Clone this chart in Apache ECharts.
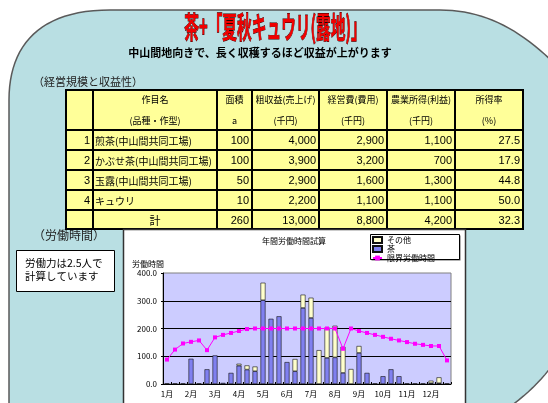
<!DOCTYPE html>
<html><head><meta charset="utf-8">
<script src="https://cdn.jsdelivr.net/npm/echarts@6/dist/echarts.min.js"></script>
<style>html,body{margin:0;padding:0;background:#fff}#c{width:548px;height:403px}</style>
</head><body><div id="c"></div>
<script>
// ---------- texts ----------
const mainTitle = '茶+「夏秋キュウリ(露地)」';
const subTitle = '中山間地向きで、長く収穫するほど収益が上がります';
const sectionTable = '（経営規模と収益性）';
const sectionLabor = '（労働時間）';
const noteLines = ['労働力は2.5人で', '計算しています'];
const chartTitle = '年間労働時間試算';

// ---------- table data ----------
const headerLine1 = ['作目名', '面積', '粗収益(売上げ)', '経営費(費用)', '農業所得(利益)', '所得率'];
const headerLine2 = ['(品種・作型)', 'a', '(千円)', '(千円)', '(千円)', '(%)'];
const cropNo = ['1', '2', '3', '4'];
const cropNames = ['煎茶(中山間共同工場)', 'かぶせ茶(中山間共同工場)', '玉露(中山間共同工場)', 'キュウリ'];
const areaA = [100, 100, 50, 10];
const grossIncome = [4000, 3900, 2900, 2200];
const operatingCost = [2900, 3200, 1600, 1100];
const farmIncome = [1100, 700, 1300, 1100];
const incomeRate = [27.5, 17.9, 44.8, 50.0];
const totalLabel = '計';
const totalValues = [260, 13000, 8800, 4200, 32.3];

// ---------- chart data (36 ten-day periods) ----------
const monthLabels = ['1月','2月','3月','4月','5月','6月','7月','8月','9月','10月','11月','12月'];
const periodNames = ['上旬', '中旬', '下旬'];
const teaHours   = [2,2,2,91,2,53,103,4,40,66,52,46,302,235,244,79,46,274,238,0,94,96,40,0,112,40,2,28,53,28,2,2,2,3,3,2];
const otherHours = [0,0,0,0,0,0,0,0,0,7,15,17,63,0,0,0,44,48,73,122,110,114,94,54,25,0,0,0,0,0,0,0,0,9,21,0];
const limitHours = [88,124,146,152,157,122,168,177,184,191,198,200,200,200,200,200,200,200,200,200,200,200,127,200,191,184,177,170,163,157,151,145,141,137,137,85];
const yTicks = [0, 100, 200, 300, 400];
const seriesNames = ['その他', '茶', '限界労働時間'];

// ---------- build ----------
const JP = '"Noto Sans CJK JP", sans-serif';
const NUM = '"Liberation Sans", "Noto Sans CJK JP", sans-serif';
const categories = [];
monthLabels.forEach(m => periodNames.forEach(p => categories.push(m + p)));

const colX = [66, 93, 217, 252, 319, 387, 455, 523];
const rowY = [90, 130, 150, 170, 190, 210, 229];

function cubicPts(p0, p1, p2, p3, n) {
  const out = [];
  for (let i = 0; i <= n; i++) {
    const t = i / n, u = 1 - t;
    out.push([u*u*u*p0[0] + 3*u*u*t*p1[0] + 3*u*t*t*p2[0] + t*t*t*p3[0],
              u*u*u*p0[1] + 3*u*u*t*p1[1] + 3*u*t*t*p2[1] + t*t*t*p3[1]]);
  }
  return out;
}
const bgPts = [[9, 420], [9, 100]]
  .concat(cubicPts([9,100],[9,45],[40,10],[110,10], 24))
  .concat([[440, 10]])
  .concat(cubicPts([440,10],[490,10],[530,35],[570,80], 24))
  .concat([[570, 320]])
  .concat(cubicPts([570,320],[570,350],[540,390],[490,420], 24));

const g = [];
g.push({type:'polygon', z:-30, shape:{points: bgPts}, style:{fill:'#B9DFE3', stroke:'#5a5a5a', lineWidth:1.5}});
g.push({type:'text', z:-10, x:275, y:27, scaleX:0.49, style:{text:mainTitle, font:'bold 30px ' + JP,
  fill:'#F00000', stroke:'#2a0000', lineWidth:0.9, align:'center', verticalAlign:'middle'}});
g.push({type:'text', z:-10, x:260, y:53, style:{text:subTitle, font:'bold 11px ' + JP, fill:'#000', align:'center', verticalAlign:'middle'}});
g.push({type:'text', z:-10, x:33, y:82, style:{text:sectionTable, font:'11px ' + JP, fill:'#222', align:'left', verticalAlign:'middle'}});
g.push({type:'text', z:-10, x:33, y:235, style:{text:sectionLabor, font:'12px ' + JP, fill:'#222', align:'left', verticalAlign:'middle'}});

// table
g.push({type:'rect', z:-10, shape:{x:colX[0], y:rowY[0], width:colX[7]-colX[0], height:rowY[6]-rowY[0]}, style:{fill:'#FFFF99'}});
colX.forEach(x => g.push({type:'line', z:-9, shape:{x1:x, y1:rowY[0], x2:x, y2:rowY[6]}, style:{stroke:'#000', lineWidth:2}}));
rowY.forEach(y => g.push({type:'line', z:-9, shape:{x1:colX[0]-1, y1:y, x2:colX[7]+1, y2:y}, style:{stroke:'#000', lineWidth:2}}));
function cellText(t, col, yc, align, font) {
  let x;
  if (align === 'center') x = (colX[col] + colX[col+1]) / 2;
  else if (align === 'right') x = colX[col+1] - 3;
  else x = colX[col] + 2;
  g.push({type:'text', z:-8, x:x, y:yc, style:{text:t, font:font, fill:'#000', align:align, verticalAlign:'middle'}});
}
headerLine1.forEach((t, i) => cellText(t, i+1, 100, 'center', '9px ' + JP));
headerLine2.forEach((t, i) => cellText(t, i+1, 121, 'center', '9px ' + JP));
const fmt = v => v.toLocaleString('en-US');
for (let r = 0; r < cropNames.length; r++) {
  const yc = (rowY[r+1] + rowY[r+2]) / 2 + 1;
  cellText(cropNo[r], 0, yc, 'right', '11px ' + NUM);
  cellText(cropNames[r], 1, yc, 'left', '10px ' + JP);
  cellText(fmt(areaA[r]), 2, yc, 'right', '11px ' + NUM);
  cellText(fmt(grossIncome[r]), 3, yc, 'right', '11px ' + NUM);
  cellText(fmt(operatingCost[r]), 4, yc, 'right', '11px ' + NUM);
  cellText(fmt(farmIncome[r]), 5, yc, 'right', '11px ' + NUM);
  cellText(incomeRate[r].toFixed(1), 6, yc, 'right', '11px ' + NUM);
}
{
  const yc = (rowY[5] + rowY[6]) / 2 + 1;
  cellText(totalLabel, 1, yc, 'center', '11px ' + JP);
  cellText(fmt(totalValues[0]), 2, yc, 'right', '11px ' + NUM);
  cellText(fmt(totalValues[1]), 3, yc, 'right', '11px ' + NUM);
  cellText(fmt(totalValues[2]), 4, yc, 'right', '11px ' + NUM);
  cellText(fmt(totalValues[3]), 5, yc, 'right', '11px ' + NUM);
  cellText(totalValues[4].toFixed(1), 6, yc, 'right', '11px ' + NUM);
}
// note box
g.push({type:'rect', z:-10, shape:{x:16.5, y:250.5, width:98, height:41}, style:{fill:'#fff', stroke:'#000', lineWidth:1}});
noteLines.forEach((t, i) => g.push({type:'text', z:-9, x:25, y:263 + i*13, style:{text:t, font:'10.5px ' + JP, fill:'#000', align:'left', verticalAlign:'middle'}}));
// chart box
g.push({type:'rect', z:-5, shape:{x:123.5, y:229.5, width:342, height:200}, style:{fill:'#fff', stroke:'#333', lineWidth:1.5}});
g.push({type:'text', z:-4, x:294, y:241, style:{text:chartTitle, font:'8px ' + JP, fill:'#000', align:'center', verticalAlign:'middle'}});
// legend box
g.push({type:'rect', z:3, shape:{x:371.5, y:235.5, width:89, height:25}, style:{fill:'#666'}});
g.push({type:'rect', z:3, shape:{x:370.5, y:234.5, width:89, height:25}, style:{fill:'#fff', stroke:'#000', lineWidth:1}});

const option = {
  animation: false,
  backgroundColor: '#fff',
  textStyle: {fontFamily: JP},
  graphic: {elements: g},
  legend: {
    orient: 'vertical', left: 372, top: 236, padding: 0, itemGap: 1,
    itemWidth: 9, itemHeight: 6,
    data: [{name: seriesNames[0], icon: 'rect'}, {name: seriesNames[1], icon: 'rect'}, seriesNames[2]],
    textStyle: {fontSize: 8, lineHeight: 7, color: '#000', padding: 0}
  },
  grid: {left: 163, top: 273, width: 288, height: 111, show: true, backgroundColor: '#CCCCFF', borderColor: '#808080', borderWidth: 1},
  xAxis: {
    type: 'category', data: categories,
    axisLine: {lineStyle: {color: '#000'}},
    axisTick: {show: true, inside: true, length: 2, interval: 0, lineStyle: {color: '#000'}},
    axisLabel: {interval: 0, fontSize: 8, color: '#000', margin: 6,
      formatter: (v, i) => (i % 3 === 0 ? monthLabels[i / 3] : '')}
  },
  yAxis: {
    type: 'value', min: yTicks[0], max: yTicks[yTicks.length-1], interval: 100,
    name: '労働時間', nameLocation: 'end', nameGap: 5,
    nameTextStyle: {fontSize: 8, color: '#000', align: 'right', verticalAlign: 'bottom', padding: [0, -1, 0, 0]},
    axisLine: {show: true, lineStyle: {color: '#000'}},
    axisTick: {show: true, length: 2, lineStyle: {color: '#000'}},
    axisLabel: {fontSize: 8, color: '#000', margin: 6, formatter: v => v.toFixed(1)},
    splitLine: {show: true, showMinLine: false, showMaxLine: false, lineStyle: {color: '#000', width: 1}}
  },
  series: [
    {name: seriesNames[1], type: 'bar', stack: 'total', barWidth: 5, data: teaHours.map(v => v || null),
      itemStyle: {color: '#8080F0', borderColor: '#111', borderWidth: 0.6}},
    {name: seriesNames[0], type: 'bar', stack: 'total', barWidth: 5, data: otherHours.map(v => v || null),
      itemStyle: {color: '#FFFFCC', borderColor: '#111', borderWidth: 0.6}},
    {name: seriesNames[2], type: 'line', data: limitHours, symbol: 'rect', symbolSize: 4,
      lineStyle: {color: '#FF00FF', width: 1}, itemStyle: {color: '#FF00FF'}}
  ]
};
const chart = echarts.init(document.getElementById('c'), null, {renderer: 'canvas'});
chart.setOption(option);
</script></body></html>
